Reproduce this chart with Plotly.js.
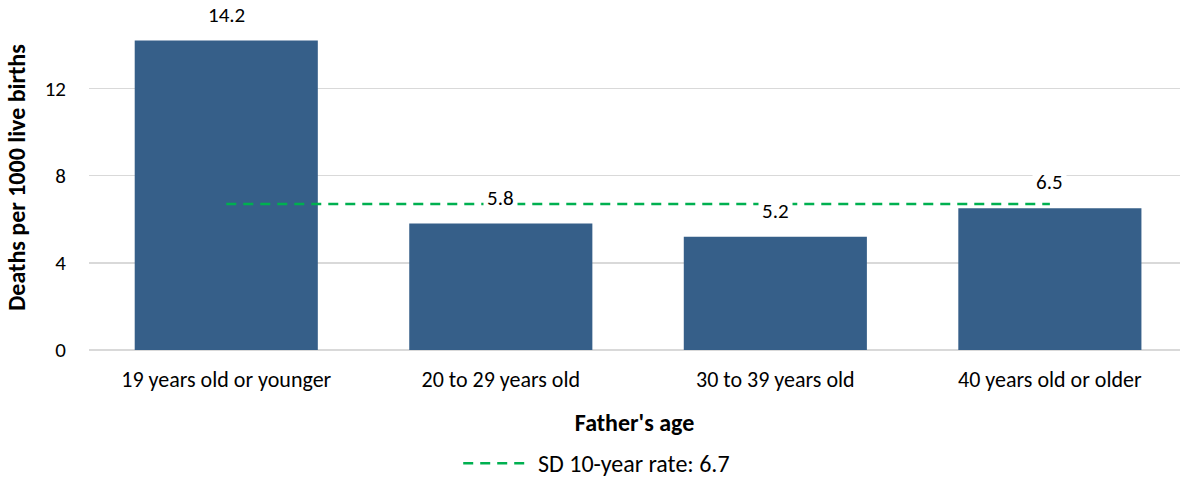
<!DOCTYPE html>
<html>
<head>
<meta charset="utf-8">
<script src="https://cdn.plot.ly/plotly-3.0.1.min.js"></script>
<style>html,body{margin:0;padding:0;background:#fff}#chart{width:1180px;height:504px}</style>
</head>
<body>
<div id="chart"></div>
<script>
const categories = ["19 years old or younger", "20 to 29 years old", "30 to 39 years old", "40 years old or older"];
const rates = [14.2, 5.8, 5.2, 6.5];
const sdRate = 6.7;
const yTicks = [0, 4, 8, 12];
const legendName = "SD 10-year rate: 6.7";

const FONT = "Carlito, Calibri, Lato, 'Open Sans', sans-serif";
const GREEN = "#00B050";
const DASH = "10px,7px";

const bars = {
  type: "bar",
  x: categories,
  y: rates,
  width: 0.667,
  marker: {color: "#365F89", line: {width: 0}},
  showlegend: false,
  hoverinfo: "x+y"
};
const sdLine = {
  type: "scatter",
  mode: "lines",
  x: categories,
  y: categories.map(() => sdRate),
  name: legendName,
  line: {color: GREEN, width: 2.5, dash: DASH},
  showlegend: false
};

const annotations = categories.map((c, i) => ({
  x: c, y: rates[i], xref: "x", yref: "y",
  text: rates[i].toFixed(1),
  showarrow: false, yshift: 26,
  bgcolor: "#ffffff", borderpad: 3,
  font: {family: FONT, size: 21, color: "#000"}
}));
// legend text (custom legend so the dashed sample has the reference length)
annotations.push({
  xref: "paper", yref: "paper", x: 0.41, y: -0.328,
  xanchor: "left", yanchor: "middle", showarrow: false,
  text: legendName, font: {family: FONT, size: 24, color: "#000"}
});

const shapes = [{
  type: "line", xref: "paper", yref: "paper",
  x0: 0.343, x1: 0.404, y0: -0.328, y1: -0.328,
  line: {color: GREEN, width: 2.5, dash: DASH}
}];

const layout = {
  width: 1180, height: 504,
  margin: {l: 89, r: 0, t: 5, b: 154},
  paper_bgcolor: "#fff", plot_bgcolor: "#fff",
  font: {family: FONT, size: 21, color: "#000"},
  bargap: 0.333,
  showlegend: false,
  xaxis: {
    type: "category",
    range: [-0.5, 3.474],
    showgrid: false, zeroline: false, showline: false,
    ticks: "", ticklabelstandoff: 14,
    tickfont: {family: FONT, size: 22, color: "#000"},
    title: {text: "<b>Father's age</b>", font: {family: FONT, size: 24, color: "#000"}, standoff: 22}
  },
  yaxis: {
    range: [0, 15.83],
    tickvals: yTicks, ticktext: yTicks.map(String),
    showgrid: true, gridcolor: "#D9D9D9", gridwidth: 1.5,
    zeroline: true, zerolinecolor: "#D9D9D9", zerolinewidth: 1.5,
    showline: false, ticks: "", ticklabelstandoff: 22,
    tickfont: {family: FONT, size: 21, color: "#000"},
    title: {text: "<b>Deaths per 1000 live births</b>", font: {family: FONT, size: 24, color: "#000"}, standoff: 12}
  },
  annotations: annotations,
  shapes: shapes
};

Plotly.newPlot("chart", [bars, sdLine], layout, {displayModeBar: false, staticPlot: true});
</script>
</body>
</html>
